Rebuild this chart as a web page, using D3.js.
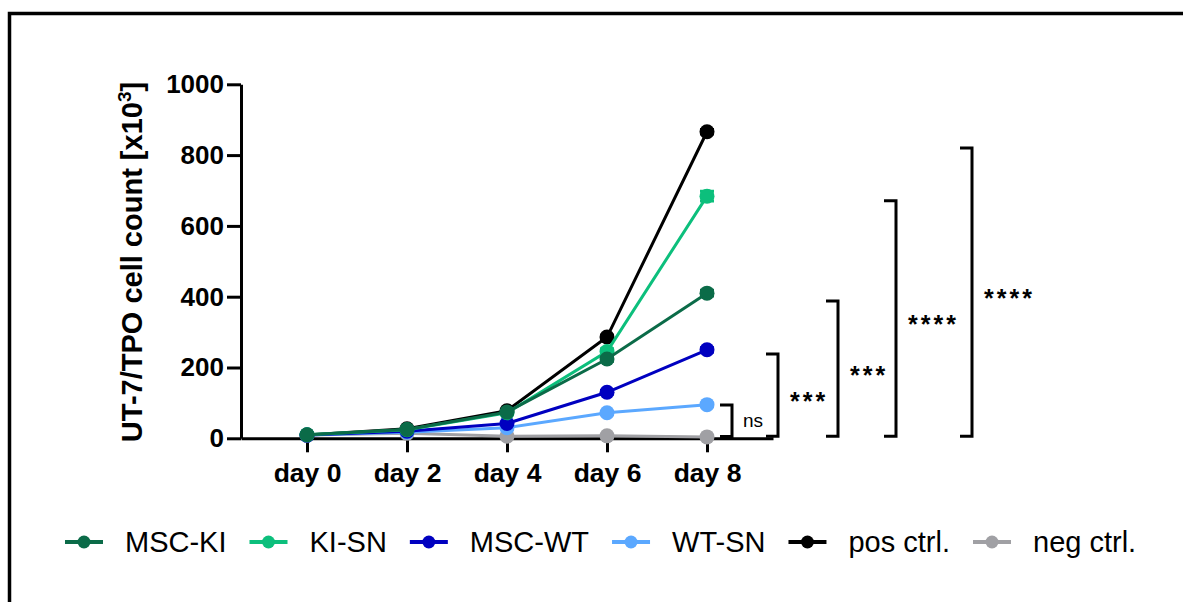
<!DOCTYPE html>
<html>
<head>
<meta charset="utf-8">
<script src="https://cdn.jsdelivr.net/npm/d3@7"></script>
<style>
    body { margin: 0; background: #fff; }
    svg { display: block; font-family: "Liberation Sans", Arial, sans-serif; }
</style>
</head>
<body>
<svg id="chart" width="1183" height="602"></svg>
<script>
// values (cell count x10^3)
const days = [0, 2, 4, 6, 8];
const dayLabels = ['day 0', 'day 2', 'day 4', 'day 6', 'day 8'];
const yTicks = [0, 200, 400, 600, 800, 1000];

const seriesNames = ['MSC-KI', 'KI-SN', 'MSC-WT', 'WT-SN', 'pos ctrl.', 'neg ctrl.'];
const seriesColors = ['#0b6b48', '#0cbf7c', '#0000c0', '#5ba8ff', '#000000', '#a0a0a4'];

const mscKi = [10, 25, 74, 224, 410];
const kiSn = [10, 24, 72, 245, 684];
const mscWt = [9, 20, 42, 130, 250];
const wtSn = [9, 17, 30, 72, 95];
const posCtrl = [9, 27, 78, 286, 866];
const negCtrl = [9, 14, 6, 7, 4];

// standard errors (only KI-SN shows beyond the markers)
const mscKiErr = [1, 2, 3, 6, 8];
const kiSnErr = [1, 2, 3, 8, 14];
const mscWtErr = [1, 1, 3, 5, 6];
const wtSnErr = [1, 1, 2, 4, 4];
const posCtrlErr = [1, 2, 3, 5, 6];
const negCtrlErr = [1, 1, 1, 1, 1];

// significance brackets: upper and lower value, label
const bracketTop = [94, 238, 388, 671, 820];
const bracketBottom = [5, 6, 6, 6, 6];
const bracketLabels = ['ns', '***', '***', '****', '****'];

const seriesValues = [mscKi, kiSn, mscWt, wtSn, posCtrl, negCtrl];
const seriesErrors = [mscKiErr, kiSnErr, mscWtErr, wtSnErr, posCtrlErr, negCtrlErr];

let svg = d3.select('#chart');

// outer frame (only left and top edges are visible)
svg.append('path')
    .attr('d', 'M9.5,602 V13.5 H1183')
    .attr('fill', 'none')
    .attr('stroke', '#000')
    .attr('stroke-width', 3.5);

// scales
let x = d3.scaleLinear()
    .domain([-1.32, 9.32])
    .range([241, 773]);
let y = d3.scaleLinear()
    .domain([0, 1000])
    .range([438.3, 84.3]);

// x axis
let xAxis = d3.axisBottom(x)
    .tickValues(days)
    .tickFormat((d, i) => dayLabels[i])
    .tickSize(14)
    .tickSizeOuter(0)
    .tickPadding(11);
let xg = svg.append('g')
    .attr('transform', `translate(0, ${y(0)})`)
    .call(xAxis);
xg.select('.domain').attr('stroke-width', 3);
xg.selectAll('.tick line').attr('stroke-width', 3);
xg.selectAll('text')
    .attr('fill', '#000')
    .style('font-size', '26.5px')
    .style('font-weight', 'bold');

// y axis
let yAxis = d3.axisLeft(y)
    .tickValues(yTicks)
    .tickFormat(d3.format('d'))
    .tickSize(14)
    .tickSizeOuter(0)
    .tickPadding(3);
let yg = svg.append('g')
    .attr('transform', `translate(${x(-1.32)}, 0)`)
    .call(yAxis);
yg.select('.domain').attr('stroke-width', 3);
yg.selectAll('.tick line').attr('stroke-width', 3);
yg.selectAll('text')
    .attr('fill', '#000')
    .style('font-size', '26px')
    .style('font-weight', 'bold');

// y axis title
let title = svg.append('text')
    .attr('transform', 'translate(142, 262) rotate(-90)')
    .attr('text-anchor', 'middle')
    .style('font-size', '29px')
    .style('font-weight', 'bold');
title.append('tspan').text('UT-7/TPO cell count [x10');
title.append('tspan').attr('dy', -11).style('font-size', '19px').text('3');
title.append('tspan').attr('dy', 11).text(']');

// series, drawn in reverse so MSC-KI ends on top
let line = d3.line()
    .x((d, i) => x(days[i]))
    .y(d => y(d));

for (let s = seriesNames.length - 1; s >= 0; s--) {
    let vals = seriesValues[s];
    let errs = seriesErrors[s];
    let col = seriesColors[s];
    let g = svg.append('g');

    g.append('path')
        .datum(vals)
        .attr('d', line)
        .attr('fill', 'none')
        .attr('stroke', col)
        .attr('stroke-width', 3);

    // error bars
    g.selectAll('.err')
        .data(vals)
        .enter()
        .append('path')
        .attr('d', (d, i) => {
            let cx = x(days[i]);
            let t = y(d + errs[i]);
            let b = y(d - errs[i]);
            return `M${cx - 7},${t}H${cx + 7}M${cx},${t}V${b}M${cx - 7},${b}H${cx + 7}`;
        })
        .attr('stroke', col)
        .attr('stroke-width', 3)
        .attr('fill', 'none');

    g.selectAll('circle')
        .data(vals)
        .enter()
        .append('circle')
        .attr('cx', (d, i) => x(days[i]))
        .attr('cy', d => y(d))
        .attr('r', 7.5)
        .attr('fill', col);
}

// significance brackets
let bracketX = [732, 778, 838, 896, 972];
let armLen = 12;
for (let b = 0; b < bracketLabels.length; b++) {
    let bx = bracketX[b];
    let top = y(bracketTop[b]);
    let bot = y(bracketBottom[b]);
    svg.append('path')
        .attr('d', `M${bx - armLen},${top}H${bx}V${bot}H${bx - armLen}`)
        .attr('fill', 'none')
        .attr('stroke', '#000')
        .attr('stroke-width', 3);

    let mid = (top + bot) / 2;
    if (bracketLabels[b] === 'ns') {
        svg.append('text')
            .attr('x', bx + 11)
            .attr('y', mid + 6)
            .style('font-size', '19px')
            .text(bracketLabels[b]);
    } else {
        svg.append('text')
            .attr('x', bx + 12)
            .attr('y', mid + 15)
            .style('font-size', '25px')
            .style('font-weight', 'bold')
            .style('letter-spacing', '3px')
            .text(bracketLabels[b]);
    }
}

// legend
let legend = svg.append('g').attr('transform', 'translate(65, 542)');
let lx = 0;
for (let s = 0; s < seriesNames.length; s++) {
    let item = legend.append('g').attr('transform', `translate(${lx}, 0)`);
    item.append('line')
        .attr('x1', 0).attr('x2', 38)
        .attr('y1', 0).attr('y2', 0)
        .attr('stroke', seriesColors[s])
        .attr('stroke-width', 4);
    item.append('circle')
        .attr('cx', 19).attr('cy', 0)
        .attr('r', 6.5)
        .attr('fill', seriesColors[s]);
    let txt = item.append('text')
        .attr('x', 60)
        .attr('y', 10)
        .style('font-size', '29px')
        .text(seriesNames[s]);
    lx += 60 + txt.node().getComputedTextLength() + 23;
}
</script>
</body>
</html>
